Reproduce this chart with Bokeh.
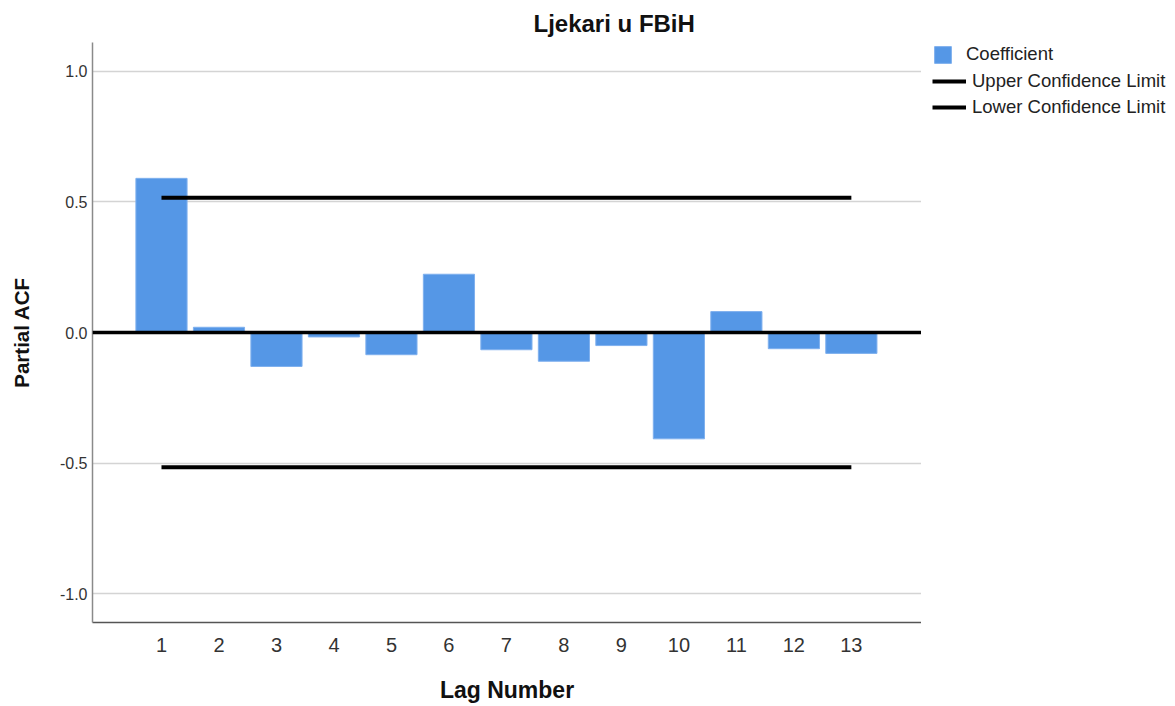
from bokeh.plotting import figure
from bokeh.models import (ColumnDataSource, Range1d, FixedTicker, Legend, LegendItem,
                          Span, NumeralTickFormatter)
from bokeh.layouts import row, column
from bokeh.embed import file_html
from bokeh.resources import INLINE

lags = [1, 2, 3, 4, 5, 6, 7, 8, 9, 10, 11, 12, 13]
pacf = [0.590, 0.020, -0.130, -0.017, -0.085, 0.223, -0.066, -0.110, -0.050, -0.407, 0.080, -0.062, -0.080]
upper_limit = [0.516] * 13
lower_limit = [-0.516] * 13
y_ticks = [-1.0, -0.5, 0.0, 0.5, 1.0]
series_names = ["Coefficient", "Upper Confidence Limit", "Lower Confidence Limit"]

FONT = "Liberation Sans"
BLUE = "#5597e6"
BAR_EDGE = "#7fb0ee"
H = 706
W_MAIN = 921
W_TOTAL = 1173

p = figure(width=W_MAIN, height=H, output_backend="svg", toolbar_location=None,
           x_range=Range1d(-0.2, 14.22), y_range=Range1d(-1.11, 1.11),
           min_border_left=92, min_border_right=0, min_border_top=42, min_border_bottom=84)

p.title.text = "Ljekari u FBiH"
p.title.text_font = FONT
p.title.text_font_size = "24px"
p.title.text_font_style = "bold"
p.title.text_color = "#111111"
p.title.align = "left"
p.title.offset = 441
p.title.standoff = 11

p.outline_line_color = None

src = ColumnDataSource(dict(lag=lags, pacf=pacf, up=upper_limit, lo=lower_limit))

p.ygrid.ticker = FixedTicker(ticks=y_ticks)
p.ygrid.grid_line_color = "#d4d4d4"
p.ygrid.grid_line_width = 1.5
p.xgrid.grid_line_color = None

p.vbar(x="lag", top="pacf", bottom=0, width=0.89, source=src,
       fill_color=BLUE, line_color=BAR_EDGE, line_width=1)

p.add_layout(Span(location=0, dimension="width", line_color="black", line_width=3.5))

p.line(x="lag", y="up", source=src, line_color="black", line_width=4)
p.line(x="lag", y="lo", source=src, line_color="black", line_width=4)

# axes
for ax in (p.xaxis, p.yaxis):
    ax.major_tick_line_color = None
    ax.minor_tick_line_color = None
    ax.major_tick_out = 0
    ax.major_tick_in = 0
    ax.minor_tick_out = 0
    ax.minor_tick_in = 0

p.yaxis.ticker = FixedTicker(ticks=y_ticks)
p.yaxis.formatter = NumeralTickFormatter(format="0.0")
p.yaxis.axis_line_color = "#8a8a8a"
p.yaxis.axis_line_width = 1.5
p.yaxis.major_label_text_font = FONT
p.yaxis.major_label_text_font_size = "16px"
p.yaxis.major_label_text_color = "#333333"
p.yaxis.major_label_standoff = 5
p.yaxis.axis_label = "Partial ACF"
p.yaxis.axis_label_text_font = FONT
p.yaxis.axis_label_text_font_size = "20.5px"
p.yaxis.axis_label_text_font_style = "bold"
p.yaxis.axis_label_text_color = "#111111"
p.yaxis.axis_label_standoff = 24

p.xaxis.ticker = FixedTicker(ticks=lags)
p.xaxis.axis_line_color = "#555555"
p.xaxis.axis_line_width = 1.5
p.xaxis.major_label_text_font = FONT
p.xaxis.major_label_text_font_size = "20px"
p.xaxis.major_label_text_color = "#333333"
p.xaxis.major_label_standoff = 15
p.xaxis.axis_label = "Lag Number"
p.xaxis.axis_label_text_font = FONT
p.xaxis.axis_label_text_font_size = "23px"
p.xaxis.axis_label_text_font_style = "bold"
p.xaxis.axis_label_text_color = "#111111"
p.xaxis.axis_label_standoff = 22

# legend panels (separate small figures so the legends are not clipped);
# their ranges keep the proxy glyphs out of view, only the legend shows
def legend_fig(height, left, top):
    f = figure(width=W_TOTAL - W_MAIN, height=height, output_backend="svg", toolbar_location=None,
               x_range=Range1d(100, 101), y_range=Range1d(100, 101),
               x_axis_type=None, y_axis_type=None,
               min_border_left=left, min_border_right=0, min_border_top=top, min_border_bottom=0)
    f.grid.grid_line_color = None
    f.outline_line_color = None
    return f

def style_legend(lg):
    lg.padding = 0
    lg.margin = 0
    lg.border_line_color = None
    lg.background_fill_alpha = 0
    lg.label_text_font = FONT
    lg.label_text_font_size = "18.5px"
    lg.label_text_color = "#222222"
    lg.label_height = 20
    lg.spacing = 4

H1 = 65
qa = legend_fig(H1, 11, 0)
kb = qa.vbar(x="lag", top="pacf", width=0.89, source=src, fill_color=BLUE, line_color=BAR_EDGE)
leg1 = Legend(items=[LegendItem(label=series_names[0], renderers=[kb])],
              location="bottom_left", glyph_width=21, glyph_height=21, label_standoff=13)
style_legend(leg1)
qa.add_layout(leg1)

qb = legend_fig(H - H1, 0, 5)
ku = qb.line(x="lag", y="up", source=src, line_color="black", line_width=4)
kl = qb.line(x="lag", y="lo", source=src, line_color="black", line_width=4)
leg2 = Legend(items=[LegendItem(label=series_names[1], renderers=[ku]),
                     LegendItem(label=series_names[2], renderers=[kl])],
              location="top_left", glyph_width=34, glyph_height=20, label_standoff=6)
style_legend(leg2)
qb.add_layout(leg2)

layout = row(p, column(qa, qb))
open("out.html", "w").write(file_html(layout, INLINE))
